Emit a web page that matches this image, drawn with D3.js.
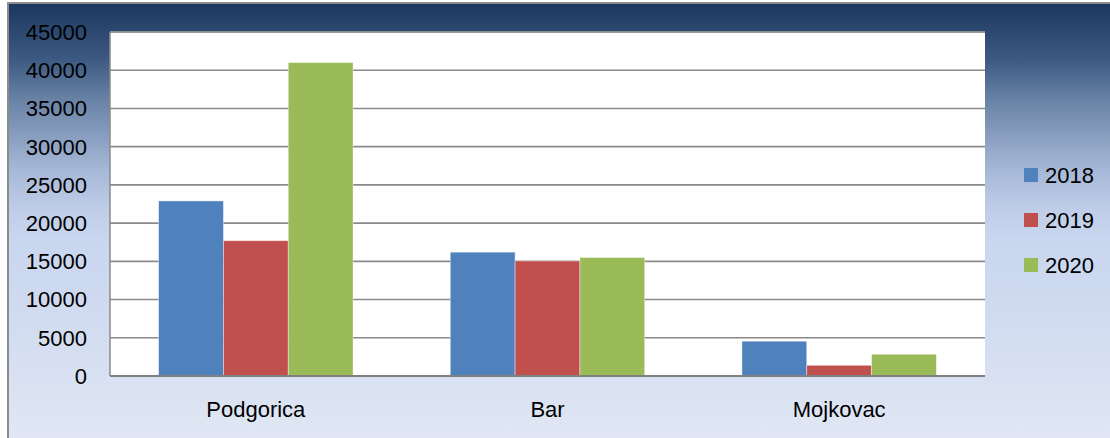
<!DOCTYPE html>
<html>
<head>
<meta charset="utf-8">
<script src="https://cdn.jsdelivr.net/npm/d3@7"></script>
<style>
html,body{margin:0;padding:0;background:#fff;}
svg{display:block;}
text{font-family:"Liberation Sans",Arial,sans-serif;fill:#000;}
</style>
</head>
<body>
<svg id="chart" width="1110" height="438"></svg>
<script>
const categories = ["Podgorica", "Bar", "Mojkovac"];
const seriesNames = ["2018", "2019", "2020"];
const values2018 = [22900, 16200, 4550];
const values2019 = [17700, 15050, 1400];
const values2020 = [41000, 15500, 2850];
const yTicks = [0, 5000, 10000, 15000, 20000, 25000, 30000, 35000, 40000, 45000];
const colors = ["#4f81bd", "#c0504d", "#9bbb59"];

const seriesValues = [values2018, values2019, values2020];
const W = 1110, H = 438;
const plot = {left: 110, top: 32, right: 985, bottom: 376};

const svg = d3.select("#chart");
const defs = svg.append("defs");
const grad = defs.append("linearGradient").attr("id", "bg")
  .attr("gradientUnits", "userSpaceOnUse")
  .attr("x1", 0).attr("y1", 3).attr("x2", 0).attr("y2", 438);
[[3, "#1c375e"], [60, "#3d5a82"], [100, "#6983a6"], [130, "#8399bb"], [170, "#a6b8d7"],
 [210, "#bfcde8"], [240, "#c8d6ef"], [300, "#cfdaf0"], [400, "#dbe3f2"], [438, "#e1e7f4"]]
  .forEach(([y, c]) => grad.append("stop").attr("offset", ((y - 3) / 435)).attr("stop-color", c));

svg.append("rect").attr("x", 0).attr("y", 0).attr("width", W).attr("height", H).attr("fill", "#ffffff");
svg.append("rect").attr("x", 8).attr("y", 3).attr("width", W + 10).attr("height", H + 10)
  .attr("fill", "url(#bg)").attr("stroke", "#8c8c8c").attr("stroke-width", 2);

// plot area
svg.append("rect").attr("x", plot.left).attr("y", plot.top)
  .attr("width", plot.right - plot.left).attr("height", plot.bottom - plot.top)
  .attr("fill", "#ffffff");
svg.append("line").attr("x1", plot.left).attr("x2", plot.right)
  .attr("y1", plot.top).attr("y2", plot.top).attr("stroke", "#b4b4b4").attr("stroke-width", 1.5);

const x0 = d3.scaleBand().domain(categories).range([plot.left, plot.right]).paddingInner(1/3 * 1).paddingOuter(0);
// custom: gap 150% of bar width -> group = 3w, band = 4.5w
const bandW = (plot.right - plot.left) / categories.length;
const xCat = d3.scaleBand().domain(categories).range([plot.left, plot.right]).padding(0);
const groupW = bandW * 3 / 4.5;
const x1 = d3.scaleBand().domain(seriesNames).range([0, groupW]).padding(0);
const y = d3.scaleLinear().domain([0, 45000]).range([plot.bottom, plot.top]);

// gridlines
svg.append("g").selectAll("line").data(yTicks.filter(t => t > 0)).join("line")
  .attr("x1", plot.left).attr("x2", plot.right)
  .attr("y1", d => y(d)).attr("y2", d => y(d))
  .attr("stroke", "#8a8a8a").attr("stroke-width", 1.6);

// bars
const groups = svg.append("g").selectAll("g").data(categories).join("g")
  .attr("transform", c => `translate(${xCat(c) + (bandW - groupW) / 2},0)`);
groups.selectAll("rect").data((c, i) => seriesNames.map((s, j) => ({s, j, v: seriesValues[j][i]}))).join("rect")
  .attr("x", d => x1(d.s)).attr("width", x1.bandwidth())
  .attr("y", d => y(d.v)).attr("height", d => y(0) - y(d.v))
  .attr("fill", d => colors[d.j])
  .attr("stroke", "rgba(255,255,255,0.5)").attr("stroke-width", 0.8);

// axes lines
svg.append("line").attr("x1", plot.left).attr("x2", plot.left)
  .attr("y1", plot.top).attr("y2", plot.bottom).attr("stroke", "#8a8a8a").attr("stroke-width", 1.5);
svg.append("line").attr("x1", plot.left).attr("x2", plot.right)
  .attr("y1", plot.bottom).attr("y2", plot.bottom).attr("stroke", "#808080").attr("stroke-width", 2);

// y labels
svg.append("g").selectAll("text").data(yTicks).join("text")
  .attr("x", 87).attr("y", d => y(d)).attr("dy", "0.36em")
  .attr("text-anchor", "end").attr("font-size", 22).text(d => d);

// x labels
svg.append("g").selectAll("text").data(categories).join("text")
  .attr("x", c => xCat(c) + bandW / 2).attr("y", 417)
  .attr("text-anchor", "middle").attr("font-size", 22).text(c => c);

// legend
const legendY = d3.scalePoint().domain(seriesNames).range([175, 265]);
const lg = svg.append("g").selectAll("g").data(seriesNames).join("g")
  .attr("transform", s => `translate(1024,${legendY(s)})`);
lg.append("rect").attr("x", 0).attr("y", -7).attr("width", 14).attr("height", 14)
  .attr("fill", (s, i) => colors[i]);
lg.append("text").attr("x", 21).attr("y", 0).attr("dy", "0.36em")
  .attr("font-size", 22).text(s => s);
</script>
</body>
</html>
